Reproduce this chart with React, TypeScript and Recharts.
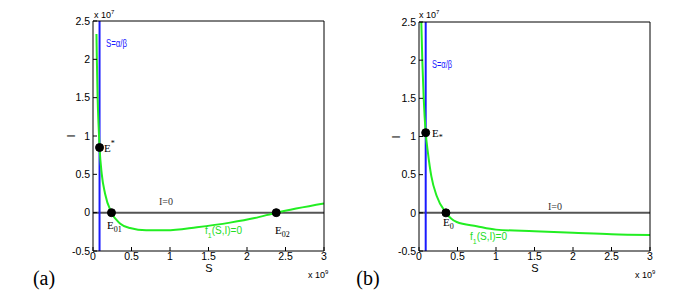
import {
  LineChart,
  Line,
  XAxis,
  YAxis,
  ReferenceLine,
  ReferenceDot,
} from "recharts";

// S in units of 1e9, I in units of 1e7
const sTicks = [0, 0.5, 1, 1.5, 2, 2.5, 3];
const iTicks = [-0.5, 0, 0.5, 1, 1.5, 2, 2.5];

// panel (a)
const curveSA = [0.045, 0.05, 0.06, 0.072, 0.085, 0.113, 0.156, 0.24, 0.35, 0.48, 0.69, 0.95, 1.35, 1.78, 2.1, 2.38, 3];
const curveIA = [2.33, 2.0, 1.5, 1.15, 0.85, 0.51, 0.25, 0, -0.14, -0.2, -0.23, -0.23, -0.19, -0.13, -0.07, 0, 0.12];
const alphaBetaA = 0.085;
const pointsSA = [0.085, 0.24, 2.38];
const pointsIA = [0.85, 0, 0];

// panel (b)
const curveSB = [0.03, 0.043, 0.061, 0.087, 0.117, 0.16, 0.23, 0.35, 0.49, 0.75, 1, 1.5, 2, 2.5, 3];
const curveIB = [2.5, 2.0, 1.5, 1.05, 0.78, 0.48, 0.22, 0, -0.12, -0.175, -0.22, -0.24, -0.26, -0.28, -0.29];
const alphaBetaB = 0.087;
const pointsSB = [0.087, 0.35];
const pointsIB = [1.05, 0];

const tickFont = { fontSize: 10.5, fill: "#000", fontFamily: "Liberation Sans" };

type PanelProps = {
  left: number;
  margin: { top: number; left: number; right: number; bottom: number };
  s: number[];
  i: number[];
  vline: number;
  ps: number[];
  pi: number[];
};

const Panel = ({ left, margin, s, i, vline, ps, pi }: PanelProps) => {
  const data = s.map((v, k) => ({ s: v, i: i[k] }));
  return (
    <div style={{ position: "absolute", left, top: 0 }}>
      <LineChart width={340} height={290} data={data} margin={margin}>
        <XAxis
          type="number"
          dataKey="s"
          domain={[0, 3]}
          ticks={sTicks}
          allowDataOverflow
          height={1}
          tickSize={-4}
          tickMargin={6}
          tick={tickFont}
          stroke="#000"
          interval={0}
        />
        <XAxis
          xAxisId="top"
          orientation="top"
          type="number"
          dataKey="s"
          domain={[0, 3]}
          ticks={sTicks}
          height={1}
          tickSize={-4}
          tick={false}
          stroke="#000"
          interval={0}
        />
        <YAxis
          type="number"
          domain={[-0.5, 2.5]}
          ticks={iTicks}
          allowDataOverflow
          width={1}
          tickSize={-4}
          tickMargin={7}
          tick={tickFont}
          stroke="#000"
          interval={0}
        />
        <YAxis
          yAxisId="right"
          orientation="right"
          type="number"
          domain={[-0.5, 2.5]}
          ticks={iTicks}
          width={1}
          tickSize={-4}
          tick={false}
          stroke="#000"
          interval={0}
        />
        <ReferenceLine y={0} stroke="#555" strokeWidth={2} />
        <ReferenceLine x={vline} stroke="#1a1aff" strokeWidth={2} />
        <Line
          type="monotone"
          dataKey="i"
          stroke="#22ee22"
          strokeWidth={2}
          dot={false}
          isAnimationActive={false}
        />
        {ps.map((v, k) => (
          <ReferenceDot key={k} x={v} y={pi[k]} r={4} fill="#000" stroke="#000" />
        ))}
      </LineChart>
    </div>
  );
};

const serif = "Liberation Serif";
const sans = "Liberation Sans";

const App = () => {
  return (
    <div style={{ position: "absolute", left: 0, top: 0, width: 695, height: 290, background: "#fff" }}>
      <Panel
        left={0}
        margin={{ top: 20, left: 92, right: 15, bottom: 38 }}
        s={curveSA}
        i={curveIA}
        vline={alphaBetaA}
        ps={pointsSA}
        pi={pointsIA}
      />
      <Panel
        left={340}
        margin={{ top: 21, left: 78, right: 29, bottom: 38 }}
        s={curveSB}
        i={curveIB}
        vline={alphaBetaB}
        ps={pointsSB}
        pi={pointsIB}
      />
      <svg
        width={695}
        height={290}
        style={{ position: "absolute", left: 0, top: 0, pointerEvents: "none" }}
      >
        {/* panel (a) */}
        <text x={94} y={18} fontSize={9} fontFamily={sans}>
          x 10<tspan dy={-4} fontSize={6}>7</tspan>
        </text>
        <text x={308} y={278} fontSize={9} fontFamily={sans}>
          x 10<tspan dy={-4} fontSize={6}>9</tspan>
        </text>
        <text x={209} y={272} fontSize={11} fontFamily={sans} textAnchor="middle">S</text>
        <text x={75} y={136} fontSize={11} fontFamily={sans} textAnchor="middle" transform="rotate(-90 75 136)">I</text>
        <text x={106} y={47} fontSize={10} fontFamily={sans} fill="#1a1aff" textLength={21} lengthAdjust="spacingAndGlyphs">S=α/β</text>
        <text x={104} y={152} fontSize={11} fontFamily={serif}>
          E<tspan dy={-6} fontSize={8}>*</tspan>
        </text>
        <text x={107} y={229} fontSize={11} fontFamily={serif}>
          E<tspan dy={3} fontSize={8}>01</tspan>
        </text>
        <text x={275} y={234} fontSize={11} fontFamily={serif}>
          E<tspan dy={3} fontSize={8}>02</tspan>
        </text>
        <text x={159} y={205} fontSize={10} fontFamily={serif} fill="#333">I=0</text>
        <text x={205} y={234} fontSize={10} fontFamily={sans} fill="#22dd22">
          f<tspan dy={4} fontSize={7}>1</tspan>
          <tspan dy={-4}>(S,I)=0</tspan>
        </text>
        <text x={44} y={285} fontSize={20} fontFamily={serif} textAnchor="middle">(a)</text>

        {/* panel (b) */}
        <text x={419} y={18} fontSize={9} fontFamily={sans}>
          x 10<tspan dy={-4} fontSize={6}>7</tspan>
        </text>
        <text x={635} y={278} fontSize={9} fontFamily={sans}>
          x 10<tspan dy={-4} fontSize={6}>9</tspan>
        </text>
        <text x={535} y={272} fontSize={11} fontFamily={sans} textAnchor="middle">S</text>
        <text x={400} y={137} fontSize={11} fontFamily={sans} textAnchor="middle" transform="rotate(-90 400 137)">I</text>
        <text x={432} y={68} fontSize={10} fontFamily={sans} fill="#1a1aff" textLength={20} lengthAdjust="spacingAndGlyphs">S=α/β</text>
        <text x={432} y={137} fontSize={11} fontFamily={serif}>
          E<tspan dy={3} fontSize={8}>*</tspan>
        </text>
        <text x={443} y={226} fontSize={11} fontFamily={serif}>
          E<tspan dy={3} fontSize={8}>0</tspan>
        </text>
        <text x={548} y={210} fontSize={10} fontFamily={serif} fill="#333">I=0</text>
        <text x={470} y={240} fontSize={10} fontFamily={sans} fill="#22dd22">
          f<tspan dy={4} fontSize={7}>1</tspan>
          <tspan dy={-4}>(S,I)=0</tspan>
        </text>
        <text x={368} y={285} fontSize={20} fontFamily={serif} textAnchor="middle">(b)</text>
      </svg>
    </div>
  );
};

export default App;
